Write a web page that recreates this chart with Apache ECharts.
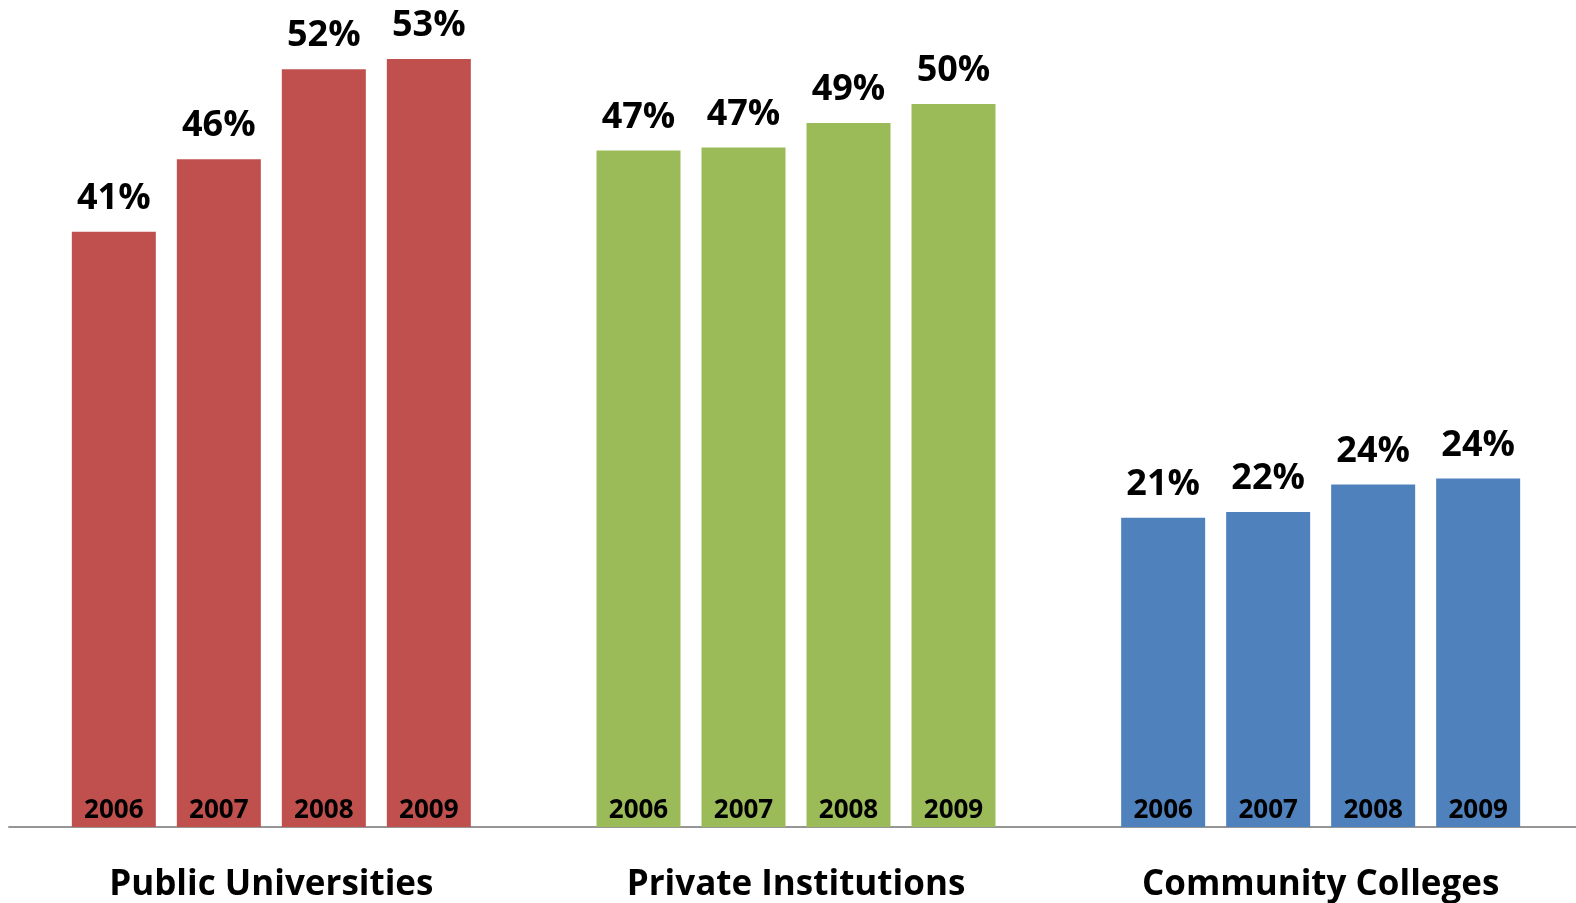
<!DOCTYPE html>
<html>
<head>
<meta charset="utf-8">
<script src="https://cdn.jsdelivr.net/npm/echarts@6/dist/echarts.min.js"></script>
<style>
html,body{margin:0;padding:0;background:#fff;overflow:hidden;width:1576px;height:903px;}
#c{width:1590px;height:903px;}
</style>
</head>
<body>
<div id="c"></div>
<script>
const categories = ['Public Universities', 'Private Institutions', 'Community Colleges'];
const years = ['2006', '2007', '2008', '2009'];
const values2006 = [41.0, 46.6, 21.3];
const values2007 = [46.0, 46.8, 21.7];
const values2008 = [52.2, 48.5, 23.6];
const values2009 = [52.9, 49.8, 24.0];
const groupColors = ['#C0504D', '#9BBB59', '#4F81BD'];

const valuesByYear = [values2006, values2007, values2008, values2009];
const font = "'Open Sans', 'DejaVu Sans', sans-serif";

const series = [];
years.forEach((yr, i) => {
  const vals = valuesByYear[i];
  series.push({
    name: yr,
    type: 'bar',
    stack: 's' + yr,
    barWidth: 84,
    barGap: '25%',
    data: vals.map((v, k) => ({ value: v, itemStyle: { color: groupColors[k] } })),
    label: {
      show: true,
      position: 'insideBottom',
      distance: 3,
      formatter: yr,
      color: '#000',
      fontFamily: font,
      fontWeight: 'bold',
      fontSize: 26
    },
    emphasis: { disabled: true },
    silent: true
  });
  series.push({
    name: yr + ' value',
    type: 'bar',
    stack: 's' + yr,
    barWidth: 84,
    barGap: '25%',
    data: vals.map(() => 0),
    itemStyle: { color: 'transparent' },
    label: {
      show: true,
      position: 'top',
      distance: 15,
      formatter: (p) => Math.round(vals[p.dataIndex]) + '%',
      color: '#000',
      fontFamily: font,
      fontWeight: 'bold',
      fontSize: 36
    },
    emphasis: { disabled: true },
    silent: true
  });
});

const chart = echarts.init(document.getElementById('c'), null, { renderer: 'canvas' });
chart.setOption({
  backgroundColor: '#fff',
  animation: false,
  grid: { left: 9, width: 1574, top: 14, bottom: 74, containLabel: false },
  xAxis: {
    type: 'category',
    data: categories,
    axisLine: { show: true, lineStyle: { color: '#969696', width: 2 } },
    axisTick: { show: false },
    axisLabel: {
      color: '#000',
      fontFamily: font,
      fontWeight: 'bold',
      fontSize: 35,
      margin: 41,
      interval: 0
    }
  },
  yAxis: {
    type: 'value',
    min: 0,
    max: 56,
    show: false,
    splitLine: { show: false }
  },
  series: series
});
</script>
</body>
</html>
